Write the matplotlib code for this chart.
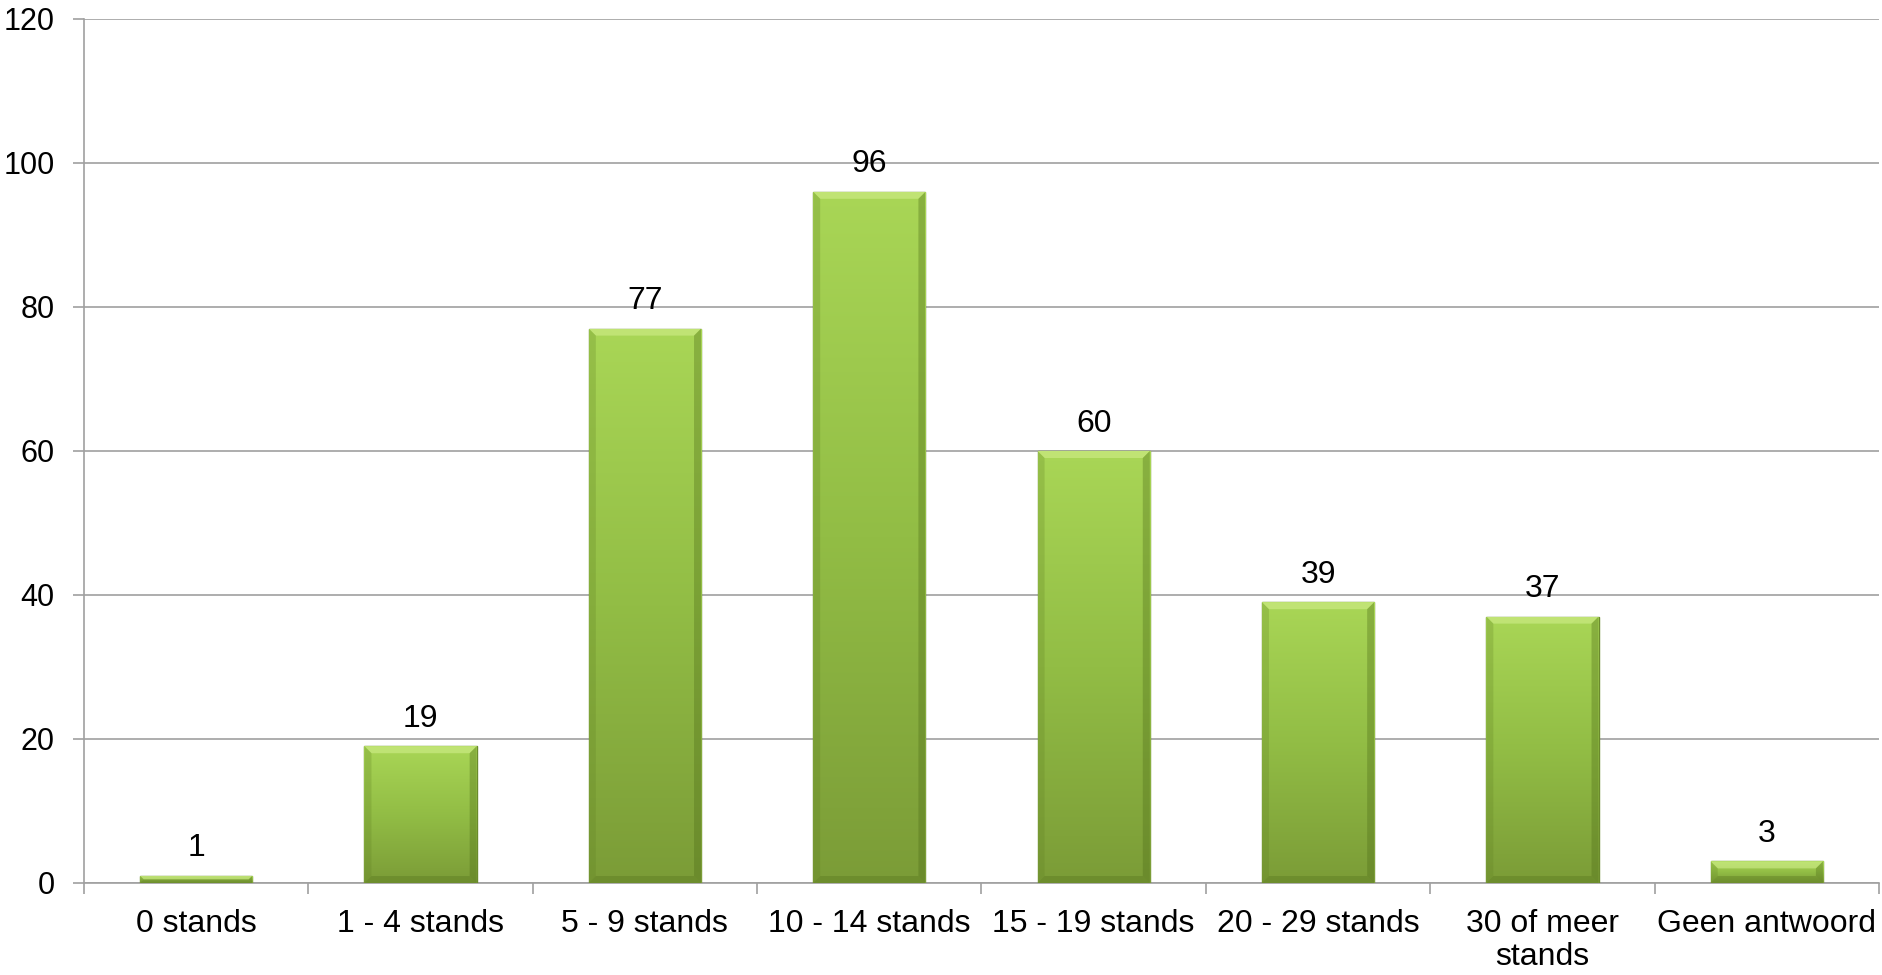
import numpy as np
import matplotlib.pyplot as plt
from matplotlib.colors import LinearSegmentedColormap
from matplotlib.patches import Polygon

# data
categories = ['0 stands', '1 - 4 stands', '5 - 9 stands', '10 - 14 stands',
              '15 - 19 stands', '20 - 29 stands', '30 of meer\nstands', 'Geen antwoord']
values = [1, 19, 77, 96, 60, 39, 37, 3]

plt.rcParams['font.family'] = ['Liberation Sans', 'DejaVu Sans']
fs = 23

fig = plt.figure(figsize=(18.83, 9.75), dpi=100)
ax = fig.add_axes([84 / 1883, 1 - 883 / 975, (1879 - 84) / 1883, (883 - 19) / 975])

x = np.arange(len(categories))
ax.set_xlim(-0.5, len(categories) - 0.5)
ax.set_ylim(0, 120)

bars = ax.bar(x, values, width=0.5, color='#98c44a', edgecolor='#6a8a2c', linewidth=1.0, zorder=3)

# vertical gradient inside each bar, light at the top, darker at the bottom
cmap = LinearSegmentedColormap.from_list('grn', ['#7b9c37', '#92bd45', '#a9d656'])
grad = np.linspace(0, 1, 256).reshape(-1, 1)
bx = 7 / 224.4          # bevel size in data units (about 7 px)
by = 7 * 120 / 864
for b in bars:
    x0, w, h = b.get_x(), b.get_width(), b.get_height()
    x1 = x0 + w
    im = ax.imshow(grad, extent=[x0, x1, 0, h], origin='lower', aspect='auto',
                   cmap=cmap, zorder=3.5)
    im.set_clip_path(b)
    # bevel: light top, darker sides and bottom
    d = min(by, h / 2)
    dx = bx * d / by
    bevels = [
        ([(x0, h), (x1, h), (x1 - dx, h - d), (x0 + dx, h - d)], '#d4f08f', 0.55),
        ([(x0, 0), (x0, h), (x0 + dx, h - d), (x0 + dx, d)], '#5f7f22', 0.25),
        ([(x1, 0), (x1, h), (x1 - dx, h - d), (x1 - dx, d)], '#4e6c18', 0.35),
        ([(x0, 0), (x1, 0), (x1 - dx, d), (x0 + dx, d)], '#4e6c18', 0.3),
    ]
    for pts, c, a in bevels:
        p = Polygon(pts, closed=True, facecolor=c, edgecolor='none', alpha=a, zorder=3.7)
        ax.add_patch(p)
        p.set_clip_path(b)

for xi, v in zip(x, values):
    ax.annotate(str(v), (xi, v), xytext=(0, 9), textcoords='offset points',
                ha='center', va='bottom', fontsize=fs)

ax.set_yticks(range(0, 121, 20))
ax.yaxis.grid(True, color='#a0a0a0', linewidth=1.2, zorder=0)
ax.set_axisbelow(True)

ax.set_xticks(x)
ax.set_xticklabels(categories, fontsize=fs, linespacing=1.1)
ax.tick_params(axis='x', which='major', length=0, pad=19)
ax.set_xticks(np.arange(-0.5, len(categories)), minor=True)
ax.tick_params(axis='x', which='minor', length=8, color='#a0a0a0', width=1.2)
ax.tick_params(axis='y', length=8, color='#a0a0a0', width=1.2, labelsize=22, pad=13)

for s in ['top', 'right']:
    ax.spines[s].set_visible(False)
for s in ['left', 'bottom']:
    ax.spines[s].set_color('#a0a0a0')
    ax.spines[s].set_linewidth(1.2)

fig.savefig('out.png', dpi=100)
